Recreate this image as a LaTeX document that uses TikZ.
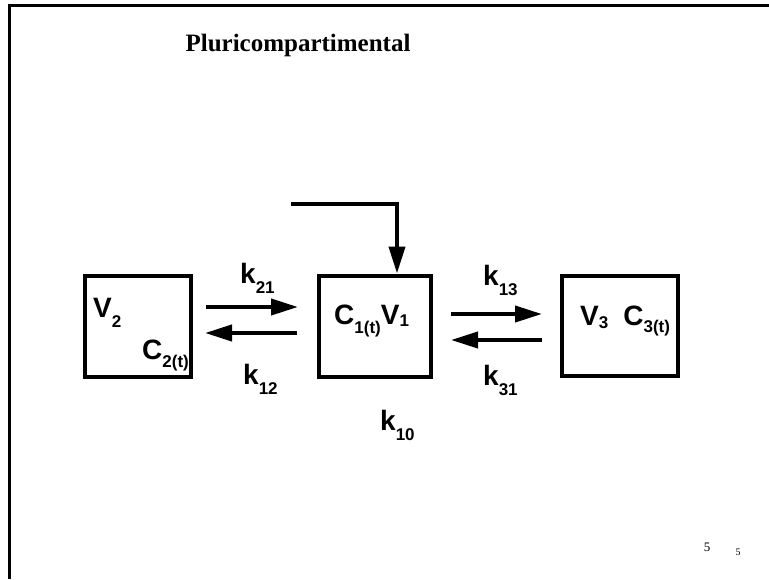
\documentclass[tikz,border=0pt]{standalone}
\usepackage{fontspec}
\setmainfont{Liberation Sans}
\newfontfamily\titlefont{Liberation Serif}
\usetikzlibrary{arrows.meta}

\newcommand{\lowidx}[2][9pt]{\raisebox{-#1}{\fontsize{17}{17}\selectfont #2}}

\begin{document}
\begin{tikzpicture}[
  x=1pt, y=-1pt,
  >={Triangle[length=27pt, width=16pt]},
  comp box/.style={
    draw,
    line width=4pt,
    minimum height=99pt,
    inner sep=0pt
  },
  flow arrow/.style={
    ->,
    line width=4pt
  },
  comp label/.style={
    inner sep=0pt,
    anchor=base west,
    font=\fontsize{28}{32}\selectfont\bfseries
  },
  page number/.style={
    inner sep=0pt,
    font=\titlefont
  }
]
\useasboundingbox (0,0) rectangle (769,579);

% slide frame
\draw[line width=3pt] (9,579) |- (769,5);

\node[inner sep=0pt, font=\titlefont\fontsize{25}{30}\selectfont\bfseries] (title) at (298,45) {Pluricompartimental};

% compartments
\node[comp box, minimum width=106pt, minimum height=101pt] (periph2) at (138,326) {};
\node[comp box, minimum width=112pt, minimum height=101pt] (central) at (375,326) {};
\node[comp box, minimum width=116pt, minimum height=100pt] (periph3) at (620,326) {};

\node[comp label] (v2) at (93,317) {V\lowidx[10pt]{2}};
\node[comp label] (c2) at (142,359) {C\lowidx[8pt]{2(t)}};
\node[comp label] (c1) at (334,324) {C\lowidx{1(t)}V\lowidx[2pt]{1}};
\node[comp label] (v3) at (580,325) {V\lowidx[3pt]{3}\hspace{15pt}C\lowidx[7pt]{3(t)}};

% dose input
\coordinate (dose) at (291,203.5);
\draw[flow arrow] (dose) -| ([xshift=22pt]central.north);

% exchange
\draw[flow arrow, shorten <=13pt, shorten >=19pt] ([yshift=19pt]periph2.east) -- ([yshift=19pt]central.west);
\draw[flow arrow, shorten <=20pt, shorten >=12pt] ([yshift=-7pt]central.west) -- ([yshift=-7pt]periph2.east);
\draw[flow arrow, shorten <=18pt, shorten >=18pt] ([yshift=12pt]central.east) -- ([yshift=12pt]periph3.west);
\draw[flow arrow, shorten <=18pt, shorten >=18pt] ([yshift=-14pt]periph3.west) -- ([yshift=-14pt]central.east);

\node[comp label] (k21) at (240,283) {k\lowidx[10pt]{21}};
\node[comp label] (k12) at (243,384) {k\lowidx[10pt]{12}};
\node[comp label] (k13) at (483,285) {k\lowidx[10pt]{13}};
\node[comp label] (k31) at (483,385) {k\lowidx[10pt]{31}};
\node[comp label] (k10) at (380,430) {k\lowidx[10pt]{10}};

\node[page number, font=\titlefont\fontsize{13}{15}\selectfont] (pg1) at (707,547) {5};
\node[page number, font=\titlefont\fontsize{10}{12}\selectfont] (pg2) at (738,552) {5};
\end{tikzpicture}
\end{document}
